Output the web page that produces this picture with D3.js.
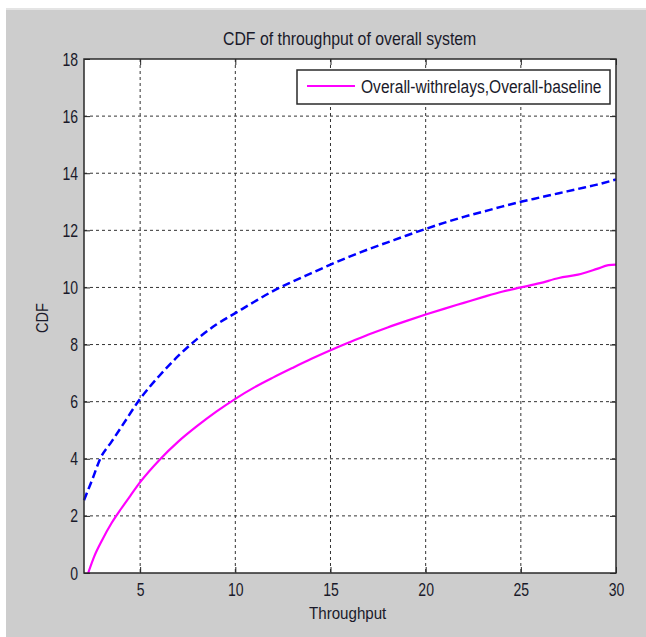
<!DOCTYPE html>
<html><head><meta charset="utf-8">
<script src="https://cdn.jsdelivr.net/npm/d3@7/dist/d3.min.js"></script>
<style>body{margin:0;background:#fff}svg{display:block}text{font-family:"Liberation Sans",Arial,sans-serif;fill:#1a1a2a}</style>
</head><body>
<svg id="c" width="646" height="637"></svg>
<script>
const title = "CDF of throughput of overall system";
const xLabel = "Throughput";
const yLabel = "CDF";
const legendLabel = "Overall-withrelays,Overall-baseline";
const xTicks = [5,10,15,20,25,30];
const yTicks = [0,2,4,6,8,10,12,14,16,18];
const xDomain = [2.05,30];
const yDomain = [0,18];

const withRelaysX = [2.27,2.6,3,3.5,4,4.5,5,6,7,8,9,10,11,12,13,14,15,16,17,18,19,20,21,22,23,24,25,26,27,28,29,29.6,30];
const withRelaysY = [0,0.6,1.15,1.75,2.25,2.72,3.18,3.95,4.6,5.15,5.65,6.1,6.5,6.85,7.18,7.5,7.8,8.08,8.35,8.6,8.83,9.05,9.26,9.46,9.66,9.85,10.0,10.15,10.33,10.45,10.65,10.78,10.8];

const baselineX = [2.05,2.5,2.9,3.5,4,5,6,7,8,9,10,11,12,13,14,15,16,17,18,19,20,21,22,23,24,25,26,27,28,29,30];
const baselineY = [2.55,3.3,4.0,4.6,5.1,6.1,6.9,7.6,8.2,8.7,9.1,9.5,9.88,10.2,10.5,10.8,11.08,11.34,11.58,11.82,12.05,12.27,12.47,12.65,12.83,13.0,13.15,13.3,13.45,13.6,13.78];

const svg = d3.select("#c");
const L=84, R=616, T=59, B=573;
svg.append("rect").attr("x",6).attr("y",9).attr("width",640).attr("height",628).attr("fill","#cdcdcd");
svg.append("rect").attr("x",6).attr("y",8).attr("width",640).attr("height",2).attr("fill","#e4e4e4");

const x = d3.scaleLinear().domain(xDomain).range([L,R]);
const y = d3.scaleLinear().domain(yDomain).range([B,T]);

svg.append("rect").attr("x",L).attr("y",T).attr("width",R-L).attr("height",B-T).attr("fill","#fff");

// grid
const g = svg.append("g");
g.selectAll("line.gx").data(xTicks.filter(v=>v<xDomain[1])).join("line")
  .attr("x1",d=>x(d)).attr("x2",d=>x(d)).attr("y1",T).attr("y2",B)
  .attr("stroke","#333").attr("stroke-width",1).attr("stroke-dasharray","3,3");
g.selectAll("line.gy").data(yTicks.filter(v=>v>0&&v<18)).join("line")
  .attr("x1",L).attr("x2",R).attr("y1",d=>y(d)).attr("y2",d=>y(d))
  .attr("stroke","#333").attr("stroke-width",1).attr("stroke-dasharray","3,3");

// axes with inward ticks
const ax = svg.append("g").attr("transform",`translate(0,${B})`)
  .call(d3.axisBottom(x).tickValues(xTicks).tickSizeInner(-6).tickSizeOuter(0).tickPadding(13));
const axT = svg.append("g").attr("transform",`translate(0,${T})`)
  .call(d3.axisTop(x).tickValues(xTicks).tickSizeInner(-6).tickSizeOuter(0).tickFormat(""));
const ay = svg.append("g").attr("transform",`translate(${L},0)`)
  .call(d3.axisLeft(y).tickValues(yTicks).tickSizeInner(-6).tickSizeOuter(0).tickPadding(12));
const ayR = svg.append("g").attr("transform",`translate(${R},0)`)
  .call(d3.axisRight(y).tickValues(yTicks).tickSizeInner(-6).tickSizeOuter(0).tickFormat(""));
[ax,axT,ay,ayR].forEach(a=>{a.select(".domain").remove();a.selectAll("line").attr("stroke","#222");});
[ax,ay].forEach(a=>a.selectAll("text").attr("font-size",19).attr("fill","#1a1a2a")
  .attr("font-family",'"Liberation Sans",Arial,sans-serif')
  .each(function(){const t=d3.select(this);const n=t.text().length;t.attr("textLength",n*7.8).attr("lengthAdjust","spacingAndGlyphs");}));
ax.selectAll("text").attr("dy","0.71em").attr("y",10);
ay.selectAll("text").attr("x",-6);

// lines
const line = d3.line().x(d=>x(d[0])).y(d=>y(d[1])).curve(d3.curveMonotoneX);
const bData = baselineX.map((v,i)=>[v,baselineY[i]]);
const wData = withRelaysX.map((v,i)=>[v,withRelaysY[i]]);
svg.append("path").datum(bData).attr("d",line).attr("fill","none").attr("stroke","#0000ff").attr("stroke-width",2.5).attr("stroke-dasharray","8,4");
svg.append("path").datum(wData).attr("d",line).attr("fill","none").attr("stroke","#ff00ff").attr("stroke-width",2.2);

// border
svg.append("rect").attr("x",L).attr("y",T).attr("width",R-L).attr("height",B-T).attr("fill","none").attr("stroke","#2a2a2a").attr("stroke-width",1.5);

// legend
svg.append("rect").attr("x",297).attr("y",70).attr("width",313).attr("height",34).attr("fill","#fff").attr("stroke","#2a2a2a").attr("stroke-width",1.5);
svg.append("line").attr("x1",307).attr("x2",355).attr("y1",86).attr("y2",86).attr("stroke","#ff00ff").attr("stroke-width",2.2);
svg.append("text").attr("transform","translate(361,93) scale(0.82,1)").attr("font-size",19).text(legendLabel);

// title & labels
svg.append("text").attr("transform","translate(223,45) scale(0.88,1)").attr("font-size",18).text(title);
svg.append("text").attr("transform","translate(309,619) scale(0.89,1)").attr("font-size",17).text(xLabel);
svg.append("text").attr("transform","translate(48,333) rotate(-90)").attr("font-size",17).attr("textLength",30).attr("lengthAdjust","spacingAndGlyphs").text(yLabel);
</script>
</body></html>
